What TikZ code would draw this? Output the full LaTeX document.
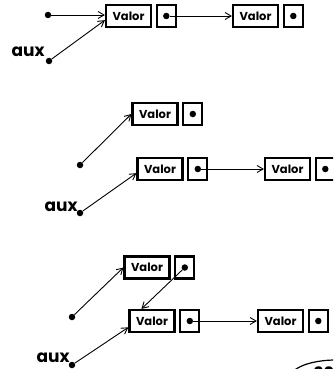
\documentclass[tikz,border=0pt]{standalone}
\usepackage{fontspec}
\setmainfont{Poppins}
\usetikzlibrary{arrows.meta,positioning}
\tikzset{
  cell/.style={draw, line width=2.2pt, minimum height=22pt, inner sep=0pt},
  valbox/.style={cell, minimum width=45pt, font=\fontsize{11.5}{11.5}\selectfont\bfseries},
  ptrbox/.style={cell, minimum width=19pt, right=3.6pt of #1},
  dot/.style={circle, fill, inner sep=0pt, minimum size=6.5pt},
  link/.style={line width=0.9pt, -{Straight Barb[length=6pt,width=7pt]}},
  auxlabel/.style={font=\fontsize{17}{17}\selectfont\bfseries, inner sep=0pt},
}
\begin{document}
\begin{tikzpicture}[x=1pt,y=-1pt]
\useasboundingbox (0,0) rectangle (333,369);
\clip (0,0) rectangle (333,369);

% --- first state: two linked nodes, a head pointer and aux ---
\node[valbox] (v1a) at (128.5,16) {Valor};
\node[ptrbox=v1a] (p1a) {};
\node[dot]    (q1a) at (p1a) {};
\node[valbox] (v1b) at (255.5,16) {Valor};
\node[ptrbox=v1b] (p1b) {};
\node[dot]    (q1b) at (p1b) {};
\node[dot]    (h1)  at (48,15) {};
\node[dot]    (a1)  at (49,61) {};
\node[auxlabel] (t1) at (28,52) {aux};
\draw[link] (h1) -- (h1 -| v1a.west);
\draw[link] (q1a) -- (v1b.west);
\draw[link] (a1) -- (v1a.190);

% --- second state: new node created ---
\node[valbox] (v2t) at (155,114) {Valor};
\node[ptrbox=v2t] (p2t) {};
\node[dot]    (q2t) at (p2t) {};
\node[dot]    (n2)  at (80,165) {};
\draw[link] (n2) -- (v2t.west);

\node[valbox] (v2a) at (160,169) {Valor};
\node[ptrbox=v2a] (p2a) {};
\node[dot]    (q2a) at (p2a) {};
\node[valbox] (v2b) at (287.5,169) {Valor};
\node[ptrbox=v2b] (p2b) {};
\node[dot]    (q2b) at (p2b) {};
\node[dot]    (a2)  at (80,213) {};
\node[auxlabel] (t2) at (61,207) {aux};
\draw[link] (q2a) -- (v2b.west);
\draw[link] (a2) -- (v2a.190);

% --- third state: new node linked in front ---
\node[valbox] (v3t) at (147,267.5) {Valor};
\node[ptrbox=v3t] (p3t) {};
\node[dot]    (q3t) at (p3t) {};
\node[dot]    (n3)  at (72,317) {};
\draw[link] (n3) -- (v3t.west);

\node[valbox] (v3a) at (152,321) {Valor};
\node[ptrbox=v3a] (p3a) {};
\node[dot]    (q3a) at (p3a) {};
\node[valbox] (v3b) at (280.5,321) {Valor};
\node[ptrbox=v3b] (p3b) {};
\node[dot]    (q3b) at (p3b) {};
\node[dot]    (a3)  at (72,365) {};
\node[auxlabel] (t3) at (53,358) {aux};
\draw[link] (q3t) -- (v3a.131);
\draw[link] (q3a) -- (v3b.west);
\draw[link] (a3) -- (v3a.195);

% --- page number badge in the corner ---
\draw[line width=1.2pt] (336,378) ellipse [x radius=46, y radius=18];
\node[font=\fontsize{17}{17}\selectfont\bfseries] (pg) at (324,373) {20};
\end{tikzpicture}
\end{document}
